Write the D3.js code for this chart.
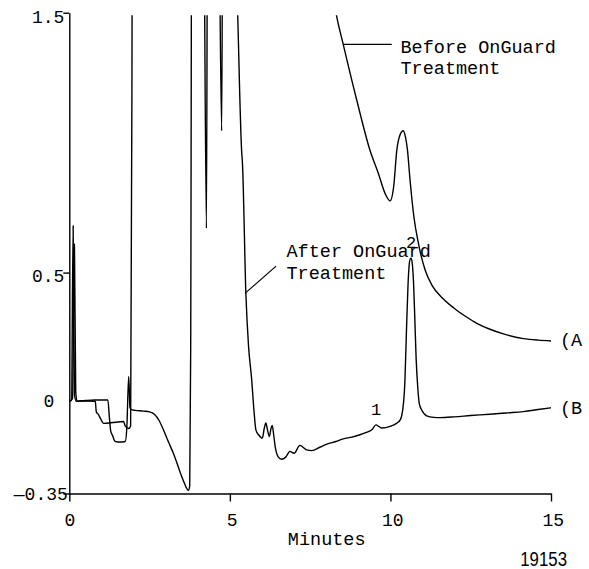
<!DOCTYPE html>
<html>
<head>
<meta charset="utf-8">
<script src="https://cdnjs.cloudflare.com/ajax/libs/d3/7.8.5/d3.min.js"></script>
<style>
body { margin: 0; background: #fff; }
svg { display: block; }
text { font-family: "Liberation Mono", "Courier New", monospace; fill: #000; }
</style>
</head>
<body>
<svg width="589" height="569"></svg>
<script>
// trace B : after OnGuard treatment
var minutesB = [0, 0.07, 0.12, 0.16, 0.22, 0.5, 0.8, 1.2, 1.25, 1.29, 1.34, 1.43, 1.6, 1.74, 1.79, 1.85, 1.89,
	1.95, 2.05, 2.3, 2.5, 2.65, 2.8, 2.93, 3.1, 3.24, 3.4, 3.5, 3.6, 3.67, 3.71, 3.75, 3.78, 3.82,
	4.17, 4.27, 4.31, 4.63, 4.745, 4.785, 5.1, 5.245, 5.37, 5.385, 5.39, 5.5, 5.58, 5.68, 5.75, 5.81,
	5.9, 6.01, 6.07, 6.12, 6.18, 6.23, 6.28, 6.32, 6.36, 6.41, 6.51, 6.61, 6.74, 6.87, 7.0, 7.18, 7.39,
	7.55, 7.8, 8.02, 8.3, 8.53, 8.8, 9.05, 9.25, 9.42, 9.55, 9.65, 9.73, 9.99, 10.2, 10.3, 10.38, 10.45,
	10.5, 10.55, 10.6, 10.64, 10.68, 10.72, 10.76, 10.8, 10.85, 10.9, 10.97, 11.13, 11.35, 11.54, 12.0,
	12.5, 13.1, 13.6, 14.14, 14.6, 15];
var signalB = [0.005, 0.01, 0.68, 0.03, 0.005, 0.008, 0.01, 0.01, -0.06, -0.11, -0.125, -0.15, -0.152, -0.15, -0.1, 0.1, -0.02,
	-0.028, -0.03, -0.033, -0.036, -0.045, -0.07, -0.105, -0.155, -0.195, -0.25, -0.285, -0.315, -0.333, -0.338, -0.32, 0.2, 2.4,
	2.2, 0.67, 2.2, 2.2, 1.046, 2.2, 2.2, 1.49, 0.96, 0.935, 0.925, 0.414, 0.22, 0.087, -0.03, -0.105,
	-0.125, -0.137, -0.1, -0.079, -0.11, -0.131, -0.1, -0.088, -0.12, -0.169, -0.21, -0.218, -0.21, -0.188, -0.195, -0.165, -0.182,
	-0.185, -0.172, -0.16, -0.15, -0.14, -0.133, -0.124, -0.115, -0.105, -0.086, -0.093, -0.098, -0.092, -0.079, -0.068, -0.03, 0.08,
	0.28, 0.46, 0.545, 0.555, 0.535, 0.46, 0.32, 0.17, 0.06, -0.005, -0.028, -0.051, -0.057, -0.058, -0.055,
	-0.05, -0.045, -0.04, -0.035, -0.027, -0.02];

// trace A : before OnGuard treatment
var minutesA = [0, 0.1, 0.16, 0.2, 0.25, 0.5, 0.81, 0.84, 0.9, 0.965, 1.07, 1.3, 1.69, 1.74, 1.85, 1.91, 1.95, 1.98,
	7.0, 7.6, 8.0, 8.32, 8.53, 8.95, 9.36, 9.62, 9.85, 9.99, 10.1, 10.2, 10.3, 10.4, 10.47, 10.53, 10.61,
	10.73, 10.87, 11.08, 11.3, 11.61, 11.96, 12.3, 12.69, 13.1, 13.52, 14.14, 14.6, 15];
var signalA = [0.005, 0.015, 0.61, 0.04, 0.005, 0.006, 0.005, -0.035, -0.045, -0.06, -0.08, -0.078, -0.073, -0.09, -0.1, -0.09, 1.2, 3.0,
	3.0, 2.2, 1.75, 1.49, 1.378, 1.164, 0.972, 0.883, 0.8, 0.776, 0.83, 0.972, 1.03, 1.046, 1.02, 0.972, 0.857,
	0.715, 0.613, 0.51, 0.45, 0.403, 0.365, 0.335, 0.305, 0.282, 0.264, 0.246, 0.24, 0.237];

var xTicks = [0, 5, 10, 15];
var yTicks = [1.5, 0.5, 0, -0.35];
var yTickLabels = ["1.5", "0.5", "0", "\u20140.35"];
var peakNames = ["1", "2"];
var peakTimes = [9.55, 10.64];
var peakHeights = [-0.086, 0.555];

var svg = d3.select("svg");

var x = d3.scaleLinear().domain([0, 15]).range([69.3, 551]);
var y = d3.scaleLinear().domain([-0.35, 1.5]).range([493.5, 12.7]);

svg.append("defs").append("clipPath")
	.attr("id", "plotclip")
	.append("rect")
	.attr("x", x(0))
	.attr("y", y(1.49))
	.attr("width", x(15) - x(0) + 2)
	.attr("height", y(-0.35) - y(1.49) + 1);

var line = d3.line()
	.x(function(d) { return x(d[0]); })
	.y(function(d) { return y(d[1]); })
	.curve(d3.curveMonotoneX);

var traces = [d3.zip(minutesA, signalA), d3.zip(minutesB, signalB)];

svg.append("g")
	.attr("clip-path", "url(#plotclip)")
	.selectAll("path")
	.data(traces)
	.enter()
	.append("path")
	.attr("d", line)
	.attr("fill", "none")
	.attr("stroke", "#000")
	.attr("stroke-width", 1.4)
	.attr("stroke-linejoin", "round");

// axes
var xAxis = svg.append("g")
	.attr("transform", "translate(0," + y(-0.35) + ")")
	.call(d3.axisBottom(x).tickValues(xTicks).tickSize(8).tickSizeOuter(0).tickPadding(11.5));
xAxis.selectAll("text")
	.attr("dx", function(d) { return d == 0 ? 0 : 1.8; });

var yAxis = svg.append("g")
	.attr("transform", "translate(" + x(0) + ",0)")
	.call(d3.axisLeft(y).tickValues(yTicks).tickSize(6).tickSizeOuter(0).tickPadding(-1)
		.tickFormat(function(d, i) { return yTickLabels[i]; }));
yAxis.selectAll("text")
	.attr("dx", function(d) { return d == 0 ? -10 : (d == -0.35 ? 3.5 : 0); })
	.attr("dy", function(d) { return d == 1.5 ? "0.55em" : (d == 0.5 ? "0.5em" : (d == 0 ? "0.2em" : "0.32em")); });
yAxis.selectAll(".tick line")
	.attr("opacity", function(d) { return d == 0 ? 0 : 1; });

svg.selectAll(".domain, .tick line")
	.attr("stroke", "#000")
	.attr("stroke-width", 1.4);
svg.selectAll(".tick text")
	.attr("font-family", "Liberation Mono, monospace")
	.attr("font-size", 18);

svg.append("text")
	.attr("x", 326.7)
	.attr("y", 545)
	.attr("text-anchor", "middle")
	.style("font-size", "18.5px")
	.text("Minutes");

// peak numbers
svg.selectAll(".peak")
	.data(peakNames)
	.enter()
	.append("text")
	.attr("class", "peak")
	.attr("x", function(d, i) { return x(peakTimes[i]); })
	.attr("y", function(d, i) { return y(peakHeights[i]) - 10; })
	.attr("text-anchor", "middle")
	.style("font-size", "17px")
	.text(function(d) { return d; });

// trace labels
svg.append("text").attr("x", 560).attr("y", y(0.237) + 5).style("font-size", "18.5px").text("(A");
svg.append("text").attr("x", 560).attr("y", y(-0.02) + 6).style("font-size", "18.5px").text("(B");

// callouts
svg.append("line")
	.attr("x1", x(8.53)).attr("y1", y(1.378))
	.attr("x2", x(10.04)).attr("y2", y(1.378))
	.attr("stroke", "#000").attr("stroke-width", 1.2);
svg.append("text").attr("x", 400.5).attr("y", 52.7).style("font-size", "18.5px").text("Before OnGuard");
svg.append("text").attr("x", 400.5).attr("y", 74).style("font-size", "18.5px").text("Treatment");

svg.append("line")
	.attr("x1", x(5.47)).attr("y1", y(0.42))
	.attr("x2", x(6.44)).attr("y2", y(0.525))
	.attr("stroke", "#000").attr("stroke-width", 1.2);
svg.append("text").attr("x", 286.5).attr("y", 257.3).style("font-size", "18.5px").text("After OnGuard");
svg.append("text").attr("x", 286.5).attr("y", 279.3).style("font-size", "18.5px").text("Treatment");

// figure number, condensed sans
svg.append("text")
	.attr("transform", "translate(567,566) scale(0.82,1)")
	.attr("text-anchor", "end")
	.style("font-family", "'Liberation Sans', Arial, sans-serif")
	.style("font-size", "20.5px")
	.text("19153");
</script>
</body>
</html>
